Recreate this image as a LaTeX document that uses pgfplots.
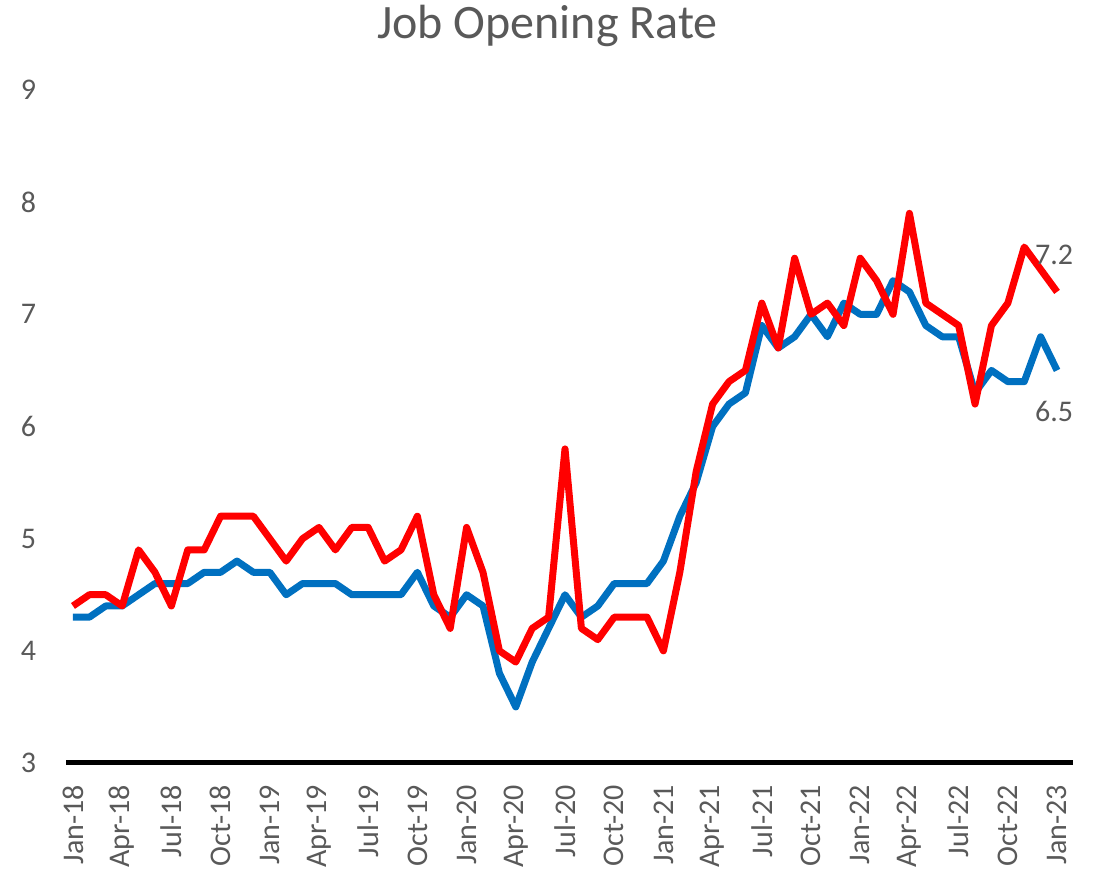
\documentclass[border=0pt]{standalone}
\usepackage{pgfplots}
\pgfplotsset{compat=1.18}
\usepackage{fontspec}
\setmainfont{Carlito}
\definecolor{txtgray}{HTML}{595959}
\definecolor{xlblue}{HTML}{0070C0}
\definecolor{xlred}{HTML}{FF0000}
\begin{document}
\begin{tikzpicture}[x=1bp,y=1bp]
\useasboundingbox (0,0) rectangle (1097,873);
\node[anchor=base, text=txtgray, font=\fontsize{48bp}{54bp}\selectfont, inner sep=0pt] at (547.5,834) {Job Opening Rate};
\begin{axis}[
  at={(66.4bp,110bp)}, anchor=south west,
  scale only axis, width=1007bp, height=673bp,
  xmin=-0.4, xmax=61, ymin=3, ymax=9,
  axis x line*=bottom, axis y line*=left,
  y axis line style={draw=none},
  x axis line style={line width=5bp, black},
  major tick length=0pt,
  xtick={0,3,...,60},
  xticklabels={Jan-18,Apr-18,Jul-18,Oct-18,Jan-19,Apr-19,Jul-19,Oct-19,Jan-20,Apr-20,Jul-20,Oct-20,Jan-21,Apr-21,Jul-21,Oct-21,Jan-22,Apr-22,Jul-22,Oct-22,Jan-23},
  ytick={3,4,...,9},
  /pgf/number format/assume math mode=true,
  tick label style={text=txtgray, font=\fontsize{30bp}{36bp}\selectfont, inner sep=0pt},
  xticklabel style={rotate=90, anchor=east, xshift=-22bp},
  yticklabel style={anchor=east, xshift=-30bp},
  clip=false,
  line join=round,
]
\addplot[xlblue, line width=7bp] coordinates {
(0,4.3)(1,4.3)(2,4.4)(3,4.4)(4,4.5)(5,4.6)(6,4.6)(7,4.6)(8,4.7)(9,4.7)
(10,4.8)(11,4.7)(12,4.7)(13,4.5)(14,4.6)(15,4.6)(16,4.6)(17,4.5)(18,4.5)(19,4.5)
(20,4.5)(21,4.7)(22,4.4)(23,4.3)(24,4.5)(25,4.4)(26,3.8)(27,3.5)(28,3.9)(29,4.2)
(30,4.5)(31,4.3)(32,4.4)(33,4.6)(34,4.6)(35,4.6)(36,4.8)(37,5.2)(38,5.5)(39,6.0)
(40,6.2)(41,6.3)(42,6.9)(43,6.7)(44,6.8)(45,7.0)(46,6.8)(47,7.1)(48,7.0)(49,7.0)
(50,7.3)(51,7.2)(52,6.9)(53,6.8)(54,6.8)(55,6.3)(56,6.5)(57,6.4)(58,6.4)(59,6.8)
(60,6.5)
};
\addplot[xlred, line width=7bp] coordinates {
(0,4.4)(1,4.5)(2,4.5)(3,4.4)(4,4.9)(5,4.7)(6,4.4)(7,4.9)(8,4.9)(9,5.2)
(10,5.2)(11,5.2)(12,5.0)(13,4.8)(14,5.0)(15,5.1)(16,4.9)(17,5.1)(18,5.1)(19,4.8)
(20,4.9)(21,5.2)(22,4.5)(23,4.2)(24,5.1)(25,4.7)(26,4.0)(27,3.9)(28,4.2)(29,4.3)
(30,5.8)(31,4.2)(32,4.1)(33,4.3)(34,4.3)(35,4.3)(36,4.0)(37,4.7)(38,5.6)(39,6.2)
(40,6.4)(41,6.5)(42,7.1)(43,6.7)(44,7.5)(45,7.0)(46,7.1)(47,6.9)(48,7.5)(49,7.3)
(50,7.0)(51,7.9)(52,7.1)(53,7.0)(54,6.9)(55,6.2)(56,6.9)(57,7.1)(58,7.6)(59,7.4)
(60,7.2)
};
\node[text=txtgray, font=\fontsize{30bp}{36bp}\selectfont, inner sep=0pt] at ([xshift=-3bp,yshift=37bp]axis cs:60,7.2) {7.2};
\node[text=txtgray, font=\fontsize{30bp}{36bp}\selectfont, inner sep=0pt] at ([xshift=-3bp,yshift=-41bp]axis cs:60,6.5) {6.5};
\end{axis}
\end{tikzpicture}
\end{document}
